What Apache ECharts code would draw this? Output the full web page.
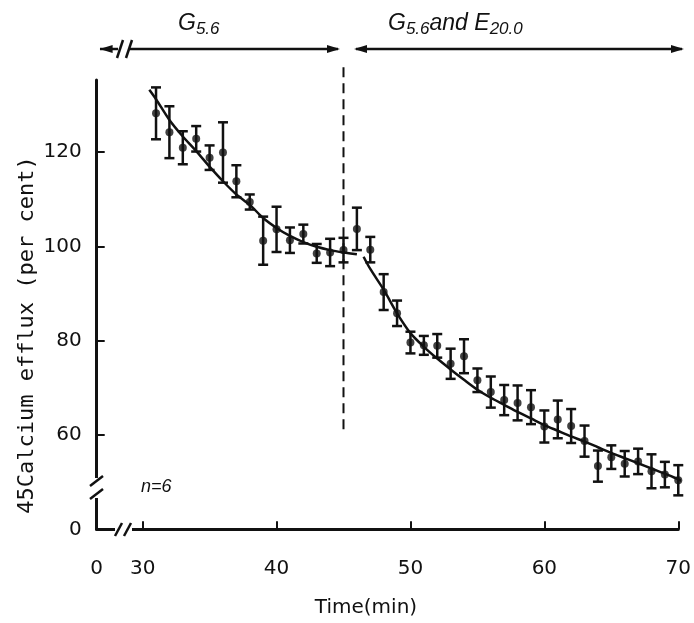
<!DOCTYPE html>
<html><head><meta charset="utf-8">
<script src="https://cdn.jsdelivr.net/npm/echarts@6/dist/echarts.min.js"></script>
<style>html,body{margin:0;padding:0;background:#fff}#c{width:694px;height:623px}</style>
</head><body><div id="c"></div>
<script>
// ---- data ----
const times  = [31,32,33,34,35,36,37,38,39,40,41,42,43,44,45,46,47,48,49,50,51,52,53,54,55,56,57,58,59,60,61,62,63,64,65,66,67,68,69,70];
const efflux = [128.2,124.2,120.9,122.8,118.8,119.9,113.8,109.4,101.2,103.6,101.3,102.6,98.5,98.7,99.2,103.7,99.3,90.3,85.8,79.6,79.0,78.9,75.1,76.7,71.6,69.1,67.4,66.8,65.9,61.8,63.3,61.9,58.7,53.4,55.3,53.9,54.4,52.3,51.6,50.4];
const errBar = [5.5,5.5,3.5,2.7,2.6,6.4,3.4,1.6,5.1,4.8,2.7,2.0,2.0,2.9,2.6,4.5,2.7,3.8,2.7,2.3,2.0,2.5,3.2,3.6,2.5,3.3,3.2,3.7,3.6,3.4,4.0,3.6,3.3,3.3,2.5,2.7,2.7,3.6,2.7,3.2];
const fit1T = [30.5,31,32,33,34,35,36,37,38,39,40,41,42,43,44,45,46];
const fit1V = [133.2,131.2,126.8,123.3,120.2,116.9,113.8,111.0,108.8,106.0,103.9,102.2,100.9,99.9,99.2,98.7,98.3];
const fit2T = [46.5,47,48,49,50,51,52,53,54,55,56,57,58,59,60,61,62,63,64,65,66,67,68,69,70,70.5];
const fit2V = [97.8,95.2,90.8,85.8,81.6,78.7,76.2,73.9,71.7,69.6,67.9,66.4,64.9,63.5,62.1,60.9,59.7,58.6,57.4,56.2,55.1,54.0,52.9,51.8,50.6,50.0];
const xTickValues = [30,40,50,60,70];
const yTickValues = [60,80,100,120];
const zeroLabel = '0';
const switchTime = 45;
const switchRange = [60, 138];
const phase1Label = ['G', '5.6'];
const phase2Label = ['G', '5.6', 'and E', '20.0'];
const nLabel = 'n=6';
const xTitle = 'Time(min)';
const yTitle = '45Calcium efflux (per cent)';

// ---- axis extents (break: axis origin drawn as 0) ----
const X_MIN = 26.57, X_MAX = 70;
const Y_MIN = 40, Y_MAX = 135.27;

const pts = times.map((t, i) => [t, efflux[i]]);
const bars = times.map((t, i) => [t, efflux[i] - errBar[i], efflux[i] + errBar[i]]);
const fit1 = fit1T.map((t, i) => [t, fit1V[i]]);
const fit2 = fit2T.map((t, i) => [t, fit2V[i]]);

const FONT = 'DejaVu Sans';
const chart = echarts.init(document.getElementById('c'), null, {renderer: 'canvas'});
const black = '#111';
const AY = 49; // annotation arrow row

function seg(x1, y1, x2, y2, w) {
  return {type: 'line', shape: {x1, y1, x2, y2}, style: {stroke: black, lineWidth: w || 2.5}, z: 100};
}
function whiteRect(x, y, w, h) {
  return {type: 'rect', shape: {x, y, width: w, height: h}, style: {fill: '#fff'}, z: 99};
}
function arrowHead(xTip, y, dir) {
  const L = 13, H = 4;
  return {type: 'polygon', shape: {points: [[xTip, y], [xTip - dir * L, y - H], [xTip - dir * L, y + H]]}, style: {fill: black}, z: 100};
}
const richStyles = {
  g: {fontFamily: 'Liberation Sans', fontStyle: 'italic', fontSize: 23, fill: black, lineHeight: 34},
  s: {fontFamily: 'Liberation Sans', fontStyle: 'italic', fontSize: 17, fill: black, lineHeight: 34, padding: [12, 0, 0, 0]}
};

chart.setOption({
  animation: false,
  backgroundColor: '#fff',
  grid: {left: 96.7, right: 7.3, top: 80, bottom: 93.7, containLabel: false},
  xAxis: {
    type: 'value', min: X_MIN, max: X_MAX,
    splitLine: {show: false},
    axisLine: {lineStyle: {color: black, width: 3}},
    axisTick: {inside: true, length: 8, customValues: xTickValues, lineStyle: {color: black, width: 2}},
    axisLabel: {
      customValues: [X_MIN].concat(xTickValues), margin: 29,
      color: black, fontFamily: FONT, fontSize: 20,
      formatter: v => (Math.abs(v - X_MIN) < 1e-6 ? zeroLabel : String(v))
    }
  },
  yAxis: {
    type: 'value', min: Y_MIN, max: Y_MAX,
    splitLine: {show: false},
    axisLine: {lineStyle: {color: black, width: 3}},
    axisTick: {inside: true, length: 8, customValues: yTickValues, lineStyle: {color: black, width: 2}},
    axisLabel: {
      customValues: [Y_MIN].concat(yTickValues), margin: 15,
      color: black, fontFamily: FONT, fontSize: 20,
      formatter: v => (Math.abs(v - Y_MIN) < 1e-6 ? zeroLabel : String(v))
    }
  },
  series: [
    {
      type: 'line', data: [[switchTime, switchRange[1]], [switchTime, switchRange[0]]],
      showSymbol: false, clip: false, silent: true,
      lineStyle: {color: black, width: 2, type: [10, 6]}
    },
    {
      type: 'line', data: fit1, smooth: 0.3, showSymbol: false, clip: false,
      lineStyle: {color: black, width: 2.5}
    },
    {
      type: 'line', data: fit2, smooth: 0.3, showSymbol: false, clip: false,
      lineStyle: {color: black, width: 2.5}
    },
    {
      type: 'custom', data: bars, clip: false,
      renderItem: function (params, api) {
        const x = api.value(0);
        const lo = api.coord([x, api.value(1)]);
        const hi = api.coord([x, api.value(2)]);
        const w = 5;
        const st = {stroke: black, lineWidth: 2.5};
        return {type: 'group', children: [
          {type: 'line', shape: {x1: lo[0], y1: lo[1], x2: hi[0], y2: hi[1]}, style: st},
          {type: 'line', shape: {x1: lo[0] - w, y1: lo[1], x2: lo[0] + w, y2: lo[1]}, style: st},
          {type: 'line', shape: {x1: hi[0] - w, y1: hi[1], x2: hi[0] + w, y2: hi[1]}, style: st}
        ]};
      }
    },
    {
      type: 'scatter', data: pts, symbol: 'circle', symbolSize: 8,
      itemStyle: {color: black}
    }
  ],
  graphic: [
    // y-axis break
    whiteRect(90, 478, 14, 20),
    seg(90, 486, 103, 476, 2.5),
    seg(90, 499, 103, 489, 2.5),
    // x-axis break
    whiteRect(115, 524, 17, 10),
    seg(115, 536, 122, 523, 2.5),
    seg(124, 536, 131, 523, 2.5),
    // top arrows
    seg(100, AY, 118, AY, 2.5),
    seg(117, AY + 9, 123, AY - 9, 2.5),
    seg(126, AY + 9, 132, AY - 9, 2.5),
    seg(129, AY, 338, AY, 2.5),
    arrowHead(99.6, AY, -1),
    arrowHead(340, AY, 1),
    seg(356, AY, 682, AY, 2.5),
    arrowHead(354, AY, -1),
    arrowHead(684, AY, 1),
    // phase labels
    {
      type: 'text', left: 178, top: 9, z: 100,
      style: {
        text: '{g|' + phase1Label[0] + '}{s|' + phase1Label[1] + '}',
        rich: richStyles
      }
    },
    {
      type: 'text', left: 388, top: 9, z: 100,
      style: {
        text: '{g|' + phase2Label[0] + '}{s|' + phase2Label[1] + '}{g|' + phase2Label[2] + '}{s|' + phase2Label[3] + '}',
        rich: richStyles
      }
    },
    {
      type: 'text', left: 141, top: 478, z: 100,
      style: {text: nLabel, font: 'italic 18px "Liberation Sans"', fill: black}
    },
    {
      type: 'text', x: 366, y: 608, z: 100,
      style: {text: xTitle, font: '20px "DejaVu Sans"', fill: black, align: 'center', verticalAlign: 'middle', textAlign: 'center', textVerticalAlign: 'middle'}
    },
    {
      type: 'text', x: 27, y: 335, rotation: Math.PI / 2, z: 100,
      style: {text: yTitle, font: '22px "DejaVu Sans Mono"', fill: black, align: 'center', verticalAlign: 'middle', textAlign: 'center', textVerticalAlign: 'middle'}
    }
  ]
});
</script></body></html>
